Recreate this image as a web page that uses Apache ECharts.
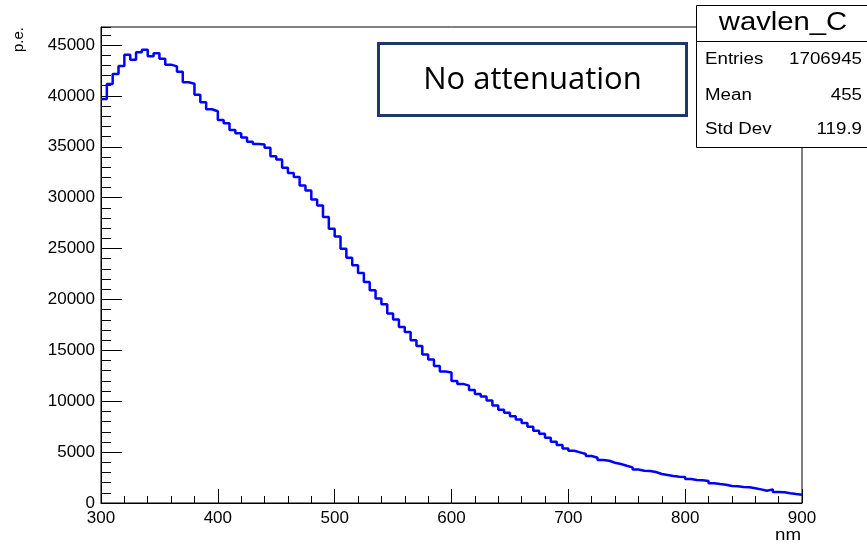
<!DOCTYPE html>
<html>
<head>
<meta charset="utf-8">
<title>wavlen_C</title>
<script src="https://cdn.jsdelivr.net/npm/echarts@6/dist/echarts.min.js"></script>
<style>
  html, body { margin: 0; padding: 0; background: #fff; }
  #chart { width: 867px; height: 544px; }
</style>
</head>
<body>
<div id="chart"></div>
<script>
// Histogram binning (nm)
const binStart = 300;
const binWidth = 5;

// Photoelectron counts per 5 nm bin, 300-900 nm
const counts = [
  39700, 41170, 42150, 42930, 44050, 43560, 44280, 44540, 43900, 44180,
  43650, 43070, 42900, 42380, 41330, 41200, 40110, 39370, 38680, 38490,
  37620, 37300, 36640, 36320, 35900, 35500, 35270, 35220, 34900, 34070,
  33750, 32930, 32420, 32040, 31200, 30710, 29820, 29240, 28090, 26950,
  26190, 24980, 24100, 23350, 22600, 21720, 20900, 20080, 19520, 18610,
  18020, 17300, 16810, 15990, 15420, 14600, 14110, 13450, 12930, 12830,
  11980, 11700, 11530, 11100, 10720, 10460, 10060, 9580, 9160, 8870,
  8520, 8200, 7850, 7480, 7100, 6800, 6420, 6020, 5690, 5360,
  5130, 4970, 4810, 4610, 4450, 4220, 4150, 3960, 3830, 3660,
  3500, 3300, 3170, 3140, 3040, 2850, 2750, 2650, 2580, 2560,
  2350, 2260, 2240, 2160, 1930, 1860, 1800, 1670, 1650, 1570,
  1540, 1440, 1340, 1210, 1340, 1080, 1050, 950, 880, 820
];

// Statistics box contents
const histName = 'wavlen_C';
const statNames = ['Entries', 'Mean', 'Std Dev'];
const statValues = ['1706945', '455', '119.9'];

const noteText = 'No attenuation';
const xTitle = 'nm';
const yTitle = 'p.e.';

// Step outline: one point per bin low edge, plus the closing upper edge
const stepData = counts.map((c, i) => [binStart + i * binWidth, c]);
stepData.push([binStart + counts.length * binWidth, counts[counts.length - 1]]);

const xMax = binStart + counts.length * binWidth;
const yMax = Math.max(...counts) * 1.05;

const labelFont = { fontFamily: 'Liberation Sans', fontSize: 17, color: '#000' };
const plain = v => String(Math.round(v));
const SX = 1.17; // horizontal stretch for the stats text

const chart = echarts.init(document.getElementById('chart'), null, { renderer: 'canvas' });

const statRows = [];
const rowY = [60, 96, 130];
statNames.forEach((name, i) => {
  statRows.push({
    type: 'text', x: 705, y: rowY[i], scaleX: SX, z: 110,
    style: { text: name, fontFamily: 'Liberation Sans', fontSize: 16, fill: '#000',
             align: 'left', verticalAlign: 'middle' }
  });
  statRows.push({
    type: 'text', x: 862, y: rowY[i], scaleX: SX, z: 110,
    style: { text: statValues[i], fontFamily: 'Liberation Sans', fontSize: 16, fill: '#000',
             align: 'right', verticalAlign: 'middle' }
  });
});

chart.setOption({
  animation: false,
  backgroundColor: '#fff',
  grid: {
    left: 101, right: 65, top: 27, bottom: 41,
    show: true, borderColor: '#000', borderWidth: 1, backgroundColor: 'transparent'
  },
  xAxis: {
    type: 'value', min: binStart, max: xMax, interval: 100,
    axisLine: { show: true, onZero: false, lineStyle: { color: '#000', width: 1 } },
    axisTick: { show: true, inside: true, length: 14, lineStyle: { color: '#000' } },
    minorTick: { show: true, splitNumber: 5, length: 7, lineStyle: { color: '#000' } },
    axisLabel: Object.assign({ margin: 7, formatter: plain }, labelFont),
    splitLine: { show: false }
  },
  yAxis: [
    {
      type: 'value', min: 0, max: yMax, interval: 5000,
      axisLine: { show: true, lineStyle: { color: '#000', width: 1 } },
      axisTick: { show: true, inside: true, length: 21, lineStyle: { color: '#000' } },
      axisLabel: Object.assign({ margin: 6, showMaxLabel: false, formatter: plain }, labelFont),
      splitLine: { show: false }
    },
    {
      // short ticks every 1000
      type: 'value', min: 0, max: yMax, interval: 1000, position: 'left', offset: 0,
      axisLine: { show: false },
      axisTick: { show: true, inside: true, length: 10, lineStyle: { color: '#000' } },
      axisLabel: { show: false },
      splitLine: { show: false }
    }
  ],
  series: [{
    type: 'line',
    step: 'end',
    data: stepData,
    showSymbol: false,
    symbol: 'none',
    lineStyle: { color: '#0000ff', width: 2.5 },
    z: 5
  }],
  graphic: [
    // axis titles
    {
      type: 'text', x: 801, y: 536, scaleX: SX, z: 100,
      style: { text: xTitle, fontFamily: 'Liberation Sans', fontSize: 16, fill: '#000',
               align: 'right', verticalAlign: 'middle' }
    },
    {
      type: 'text', x: 19, y: 27, rotation: Math.PI / 2, z: 100,
      style: { text: yTitle, fontFamily: 'Liberation Sans', fontSize: 15, fill: '#000',
               align: 'right', verticalAlign: 'middle' }
    },
    // annotation box
    {
      type: 'rect', z: 100,
      shape: { x: 378.5, y: 43.5, width: 308, height: 72 },
      style: { fill: '#fff', stroke: '#1f3864', lineWidth: 3 }
    },
    {
      type: 'text', x: 532.5, y: 80, z: 101,
      style: { text: noteText, fontFamily: 'Open Sans', fontSize: 31, fill: '#000',
               align: 'center', verticalAlign: 'middle' }
    },
    // statistics box
    {
      type: 'rect', z: 105,
      shape: { x: 696.5, y: 5.5, width: 180, height: 142 },
      style: { fill: '#fff', stroke: '#000', lineWidth: 1 }
    },
    {
      type: 'line', z: 106,
      shape: { x1: 696.5, y1: 41.5, x2: 867, y2: 41.5 },
      style: { stroke: '#000', lineWidth: 1 }
    },
    {
      type: 'text', x: 783, y: 23, scaleX: SX, z: 110,
      style: { text: histName, fontFamily: 'Liberation Sans', fontSize: 25, fill: '#000',
               align: 'center', verticalAlign: 'middle' }
    }
  ].concat(statRows)
});
</script>
</body>
</html>
